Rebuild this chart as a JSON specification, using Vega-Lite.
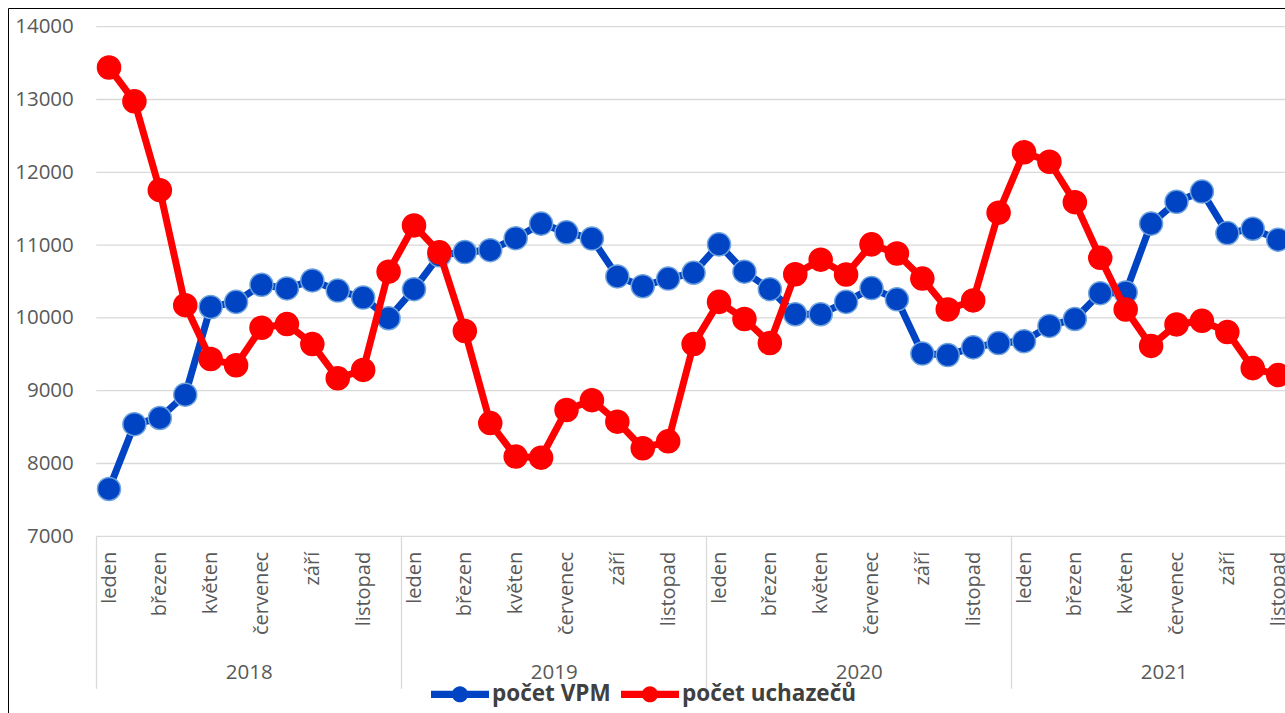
{
  "$schema": "https://vega.github.io/schema/vega-lite/v6.json",
  "width": 1279,
  "height": 707,
  "autosize": {"type": "none"},
  "padding": {"left": 8, "top": 8, "right": -2, "bottom": -2},
  "background": "white",
  "config": {
    "view": {"stroke": "#000000", "strokeWidth": 1, "fill": "white"},
    "font": "Open Sans",
    "axis": {"labelFont": "Open Sans", "labelColor": "#595959", "grid": false, "domain": false, "ticks": false, "title": null}
  },
  "data": {"values": [
    {"i": 0, "rok": 2018, "mesic": "leden", "vpm": 7650, "uchazeci": 13440},
    {"i": 1, "rok": 2018, "mesic": "únor", "vpm": 8540, "uchazeci": 12975},
    {"i": 2, "rok": 2018, "mesic": "březen", "vpm": 8625, "uchazeci": 11755},
    {"i": 3, "rok": 2018, "mesic": "duben", "vpm": 8945, "uchazeci": 10175},
    {"i": 4, "rok": 2018, "mesic": "květen", "vpm": 10150, "uchazeci": 9435},
    {"i": 5, "rok": 2018, "mesic": "červen", "vpm": 10220, "uchazeci": 9350},
    {"i": 6, "rok": 2018, "mesic": "červenec", "vpm": 10455, "uchazeci": 9865},
    {"i": 7, "rok": 2018, "mesic": "srpen", "vpm": 10405, "uchazeci": 9915},
    {"i": 8, "rok": 2018, "mesic": "září", "vpm": 10515, "uchazeci": 9640},
    {"i": 9, "rok": 2018, "mesic": "říjen", "vpm": 10375, "uchazeci": 9170},
    {"i": 10, "rok": 2018, "mesic": "listopad", "vpm": 10280, "uchazeci": 9285},
    {"i": 11, "rok": 2018, "mesic": "prosinec", "vpm": 9995, "uchazeci": 10635},
    {"i": 12, "rok": 2019, "mesic": "leden", "vpm": 10395, "uchazeci": 11270},
    {"i": 13, "rok": 2019, "mesic": "únor", "vpm": 10860, "uchazeci": 10900},
    {"i": 14, "rok": 2019, "mesic": "březen", "vpm": 10905, "uchazeci": 9820},
    {"i": 15, "rok": 2019, "mesic": "duben", "vpm": 10930, "uchazeci": 8555},
    {"i": 16, "rok": 2019, "mesic": "květen", "vpm": 11095, "uchazeci": 8095},
    {"i": 17, "rok": 2019, "mesic": "červen", "vpm": 11295, "uchazeci": 8080},
    {"i": 18, "rok": 2019, "mesic": "červenec", "vpm": 11175, "uchazeci": 8735},
    {"i": 19, "rok": 2019, "mesic": "srpen", "vpm": 11090, "uchazeci": 8870},
    {"i": 20, "rok": 2019, "mesic": "září", "vpm": 10570, "uchazeci": 8575},
    {"i": 21, "rok": 2019, "mesic": "říjen", "vpm": 10435, "uchazeci": 8210},
    {"i": 22, "rok": 2019, "mesic": "listopad", "vpm": 10540, "uchazeci": 8305},
    {"i": 23, "rok": 2019, "mesic": "prosinec", "vpm": 10620, "uchazeci": 9640},
    {"i": 24, "rok": 2020, "mesic": "leden", "vpm": 11010, "uchazeci": 10220},
    {"i": 25, "rok": 2020, "mesic": "únor", "vpm": 10635, "uchazeci": 9985},
    {"i": 26, "rok": 2020, "mesic": "březen", "vpm": 10395, "uchazeci": 9655},
    {"i": 27, "rok": 2020, "mesic": "duben", "vpm": 10050, "uchazeci": 10600},
    {"i": 28, "rok": 2020, "mesic": "květen", "vpm": 10050, "uchazeci": 10800},
    {"i": 29, "rok": 2020, "mesic": "červen", "vpm": 10220, "uchazeci": 10595},
    {"i": 30, "rok": 2020, "mesic": "červenec", "vpm": 10410, "uchazeci": 11010},
    {"i": 31, "rok": 2020, "mesic": "srpen", "vpm": 10255, "uchazeci": 10885},
    {"i": 32, "rok": 2020, "mesic": "září", "vpm": 9510, "uchazeci": 10540},
    {"i": 33, "rok": 2020, "mesic": "říjen", "vpm": 9490, "uchazeci": 10115},
    {"i": 34, "rok": 2020, "mesic": "listopad", "vpm": 9595, "uchazeci": 10240},
    {"i": 35, "rok": 2020, "mesic": "prosinec", "vpm": 9655, "uchazeci": 11445},
    {"i": 36, "rok": 2021, "mesic": "leden", "vpm": 9680, "uchazeci": 12275},
    {"i": 37, "rok": 2021, "mesic": "únor", "vpm": 9890, "uchazeci": 12145},
    {"i": 38, "rok": 2021, "mesic": "březen", "vpm": 9985, "uchazeci": 11590},
    {"i": 39, "rok": 2021, "mesic": "duben", "vpm": 10340, "uchazeci": 10825},
    {"i": 40, "rok": 2021, "mesic": "květen", "vpm": 10350, "uchazeci": 10115},
    {"i": 41, "rok": 2021, "mesic": "červen", "vpm": 11295, "uchazeci": 9615},
    {"i": 42, "rok": 2021, "mesic": "červenec", "vpm": 11595, "uchazeci": 9910},
    {"i": 43, "rok": 2021, "mesic": "srpen", "vpm": 11735, "uchazeci": 9960},
    {"i": 44, "rok": 2021, "mesic": "září", "vpm": 11165, "uchazeci": 9805},
    {"i": 45, "rok": 2021, "mesic": "říjen", "vpm": 11225, "uchazeci": 9310},
    {"i": 46, "rok": 2021, "mesic": "listopad", "vpm": 11075, "uchazeci": 9215}
  ]},
  "layer": [
    {
      "data": {"values": [{"v": 7000}, {"v": 8000}, {"v": 9000}, {"v": 10000}, {"v": 11000}, {"v": 12000}, {"v": 13000}, {"v": 14000}]},
      "mark": {"type": "rule", "color": "#d9d9d9", "strokeWidth": 1.3},
      "encoding": {
        "x": {"datum": -0.5, "type": "quantitative",
              "scale": {"domain": [-3.974, 46.347], "nice": false, "zero": false},
              "axis": {"orient": "bottom", "offset": -178.7, "values": [-0.5, 11.5, 23.5, 35.5], "ticks": true, "tickSize": 152, "tickColor": "#d9d9d9", "tickWidth": 1.3, "labels": false, "domain": false, "grid": false}},
        "x2": {"datum": 47},
        "y": {"field": "v", "type": "quantitative",
              "scale": {"domain": [4545.3, 14256.9], "nice": false, "zero": false},
              "axis": {"orient": "left", "offset": -88.3, "values": [7000, 8000, 9000, 10000, 11000, 12000, 13000, 14000], "format": "d", "labelFontSize": 20.5, "labelPadding": 23, "labelBaseline": "middle", "labelAlign": "right"}}
      }
    },
    {
      "mark": {"type": "line", "strokeWidth": 7, "strokeJoin": "round"},
      "encoding": {
        "x": {"field": "i", "type": "quantitative",
              "scale": {"domain": [-3.974, 46.347], "nice": false, "zero": false},
              "axis": {"orient": "bottom", "offset": -178.7, "values": [0, 2, 4, 6, 8, 10, 12, 14, 16, 18, 20, 22, 24, 26, 28, 30, 32, 34, 36, 38, 40, 42, 44, 46],
                       "labelExpr": "['leden','únor','březen','duben','květen','červen','červenec','srpen','září','říjen','listopad','prosinec'][datum.value % 12]",
                       "labelAngle": -90, "labelAlign": "right", "labelBaseline": "middle", "labelPadding": 15, "labelFontSize": 20, "labelOverlap": false, "labelFlush": false, "labelBound": false}},
        "y": {"field": "vpm", "type": "quantitative", "scale": {"domain": [4545.3, 14256.9], "nice": false, "zero": false}, "axis": null},
        "color": {"datum": "počet VPM",
                  "scale": {"domain": ["počet VPM", "počet uchazečů"], "range": ["#0044c4", "#ff0000"]},
                  "legend": {"orient": "none", "legendX": 423, "legendY": 657, "direction": "horizontal", "title": null,
                             "symbolType": "M-1,-0.125H1V0.125H-1Z M0,-0.28A0.28,0.28,0,1,1,0,0.28A0.28,0.28,0,1,1,0,-0.28Z",
                             "symbolSize": 3364, "symbolStrokeWidth": 0,
                             "labelFont": "Open Sans", "labelFontWeight": "bold", "labelFontSize": 22.5, "labelColor": "#404040",
                             "labelOffset": 3, "columnPadding": 10, "padding": 0, "labelLimit": 400,
                             "encode": {"symbols": {"update": {"fill": {"scale": "color", "field": "value"}, "stroke": {"value": "transparent"}, "opacity": {"value": 1}}}}}}
      }
    },
    {
      "mark": {"type": "point", "shape": "circle", "filled": true, "size": 530, "stroke": "#6fa3dc", "strokeWidth": 1.5, "opacity": 1},
      "encoding": {
        "x": {"field": "i", "type": "quantitative",
              "scale": {"domain": [-3.974, 46.347], "nice": false, "zero": false},
              "axis": {"orient": "bottom", "offset": -178.7, "values": [5.5, 17.5, 29.5, 41.5],
                       "labelExpr": "'' + (2018 + floor(datum.value / 12))",
                       "labelAngle": 0, "labelAlign": "center", "labelBaseline": "middle", "labelPadding": 135.7, "labelFontSize": 20.5, "labelOverlap": false, "labelFlush": false, "labelBound": false}},
        "y": {"field": "vpm", "type": "quantitative", "scale": {"domain": [4545.3, 14256.9], "nice": false, "zero": false}, "axis": null},
        "color": {"datum": "počet VPM"}
      }
    },
    {
      "mark": {"type": "line", "strokeWidth": 7, "strokeJoin": "round"},
      "encoding": {
        "x": {"field": "i", "type": "quantitative", "scale": {"domain": [-3.974, 46.347], "nice": false, "zero": false}, "axis": null},
        "y": {"field": "uchazeci", "type": "quantitative", "scale": {"domain": [4545.3, 14256.9], "nice": false, "zero": false}, "axis": null},
        "color": {"datum": "počet uchazečů"}
      }
    },
    {
      "mark": {"type": "point", "shape": "circle", "filled": true, "size": 530, "stroke": "#ff0000", "strokeWidth": 1.5, "opacity": 1},
      "encoding": {
        "x": {"field": "i", "type": "quantitative", "scale": {"domain": [-3.974, 46.347], "nice": false, "zero": false}, "axis": null},
        "y": {"field": "uchazeci", "type": "quantitative", "scale": {"domain": [4545.3, 14256.9], "nice": false, "zero": false}, "axis": null},
        "color": {"datum": "počet uchazečů"}
      }
    }
  ],
  "resolve": {"axis": {"x": "independent", "y": "independent"}}
}
